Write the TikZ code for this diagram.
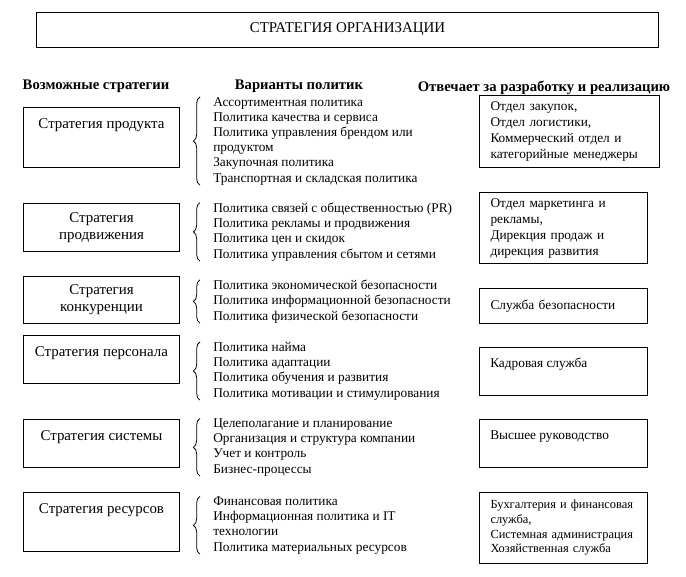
\documentclass[tikz,border=0pt]{standalone}
\usepackage{fontspec}
\setmainfont{Liberation Serif}
\usepackage{tikz}
\usetikzlibrary{decorations.pathreplacing}
\tikzset{
  titlebox/.style={
    draw, line width=0.75pt, minimum width=467pt, minimum height=26.25pt,
    font=\fontsize{11.2}{13}\selectfont
  },
  headlabel/.style={
    font=\fontsize{11}{13}\selectfont\bfseries
  },
  stratbox/.style={
    draw, line width=0.75pt, anchor=north west, align=center,
    minimum width=117pt, inner sep=0pt,
    font=\fontsize{11.2}{12.8}\selectfont
  },
  stratlabel/.style={
    label={[anchor=base, inner sep=0pt, yshift=-15.75pt,
      font=\fontsize{11.2}{12.8}\selectfont]north:#1}
  },
  polnode/.style={
    anchor=base west, align=left, inner sep=0pt,
    font=\fontsize{10}{11.4}\selectfont
  },
  polbrace/.style={
    decorate, decoration={brace, amplitude=5pt}, line width=0.6pt
  },
  deptbox/.style={
    draw, line width=0.75pt, anchor=north west, align=left,
    inner xsep=8.25pt, minimum width=126pt, text width=109.5pt
  },
  deptlabel/.style={
    label={[anchor=base west, inner sep=0pt, xshift=8.25pt,
      yshift=-15pt]north west:#1}
  },
}

\begin{document}
\begin{tikzpicture}[x=0.75pt, y=-0.75pt]
  \useasboundingbox (0,0) rectangle (686,576);

  % Title
  \node[titlebox] (title) at (347.5,29.5) {СТРАТЕГИЯ ОРГАНИЗАЦИИ};

  % Column heads
  \node[headlabel] (hStrat) at (96,86) {Возможные стратегии};
  \node[headlabel] (hPol) at (299,86) {Варианты политик};
  \node[headlabel] (hDept) at (544,88) {Отвечает за разработку и реализацию};

  % Strategy boxes
  \node[stratbox, minimum height=45pt, stratlabel=Стратегия продукта]
    (sProd) at (23,107) {};
  \node[stratbox, minimum height=36pt] (sProm) at (23,203)
    {Стратегия\\продвижения};
  \node[stratbox, minimum height=35.25pt] (sComp) at (23,276)
    {Стратегия\\конкуренции};
  \node[stratbox, minimum height=36pt, stratlabel=Стратегия персонала]
    (sPers) at (23,335) {};
  \node[stratbox, minimum height=36pt, stratlabel=Стратегия системы]
    (sSys) at (23,419) {};
  \node[stratbox, minimum height=44.25pt, stratlabel=Стратегия ресурсов]
    (sRes) at (23,492) {};

  % Policy lists (placed by the baseline of the last line)
  \node[polnode] (pProd) at (213,182) {
    Ассортиментная политика\\
    Политика качества и сервиса\\
    Политика управления брендом или\\
    продуктом\\
    Закупочная политика\\
    Транспортная и складская политика
  };
  \node[polnode] (pProm) at (213,258) {
    Политика связей с общественностью (PR)\\
    Политика рекламы и продвижения\\
    Политика цен и скидок\\
    Политика управления сбытом и сетями
  };
  \node[polnode] (pComp) at (213,320) {
    Политика экономической безопасности\\
    Политика информационной безопасности\\
    Политика физической безопасности
  };
  \node[polnode] (pPers) at (213,397) {
    Политика найма\\
    Политика адаптации\\
    Политика обучения и развития\\
    Политика мотивации и стимулирования
  };
  \node[polnode] (pSys) at (213,473) {
    Целеполагание и планирование\\
    Организация и структура компании\\
    Учет и контроль\\
    Бизнес-процессы
  };
  \node[polnode] (pRes) at (213,551) {
    Финансовая политика\\
    Информационная политика и IT\\
    технологии\\
    Политика материальных ресурсов
  };

  % Braces
  \foreach \p in {pProd,pProm,pComp,pPers,pSys,pRes}
    \draw[polbrace] ([xshift=-9.75pt]\p.south west)
      -- ([xshift=-9.75pt]\p.north west);

  % Departments
  \node[deptbox, minimum width=135pt, text width=118.5pt,
    minimum height=54pt] (dProd) at (479,95) {
    Отдел закупок,\\
    Отдел логистики,\\
    Коммерческий отдел и\\
    категорийные менеджеры
  };
  \node[deptbox, minimum height=53.25pt] (dProm) at (479,192) {
    Отдел маркетинга и\\
    рекламы,\\
    Дирекция продаж и\\
    дирекция развития
  };
  \node[deptbox, minimum height=26.25pt] (dSec) at (479,288)
    {Служба безопасности};
  \node[deptbox, minimum height=36pt, deptlabel=Кадровая служба]
    (dPers) at (479,347) {};
  \node[deptbox, minimum height=36pt, deptlabel=Высшее руководство]
    (dSys) at (479,419) {};
  \node[deptbox, minimum height=53.25pt,
    font=\fontsize{9.3}{11}\selectfont] (dRes) at (479,492) {
    Бухгалтерия и финансовая\\
    служба,\\
    Системная администрация\\
    Хозяйственная служба
  };
\end{tikzpicture}
\end{document}
